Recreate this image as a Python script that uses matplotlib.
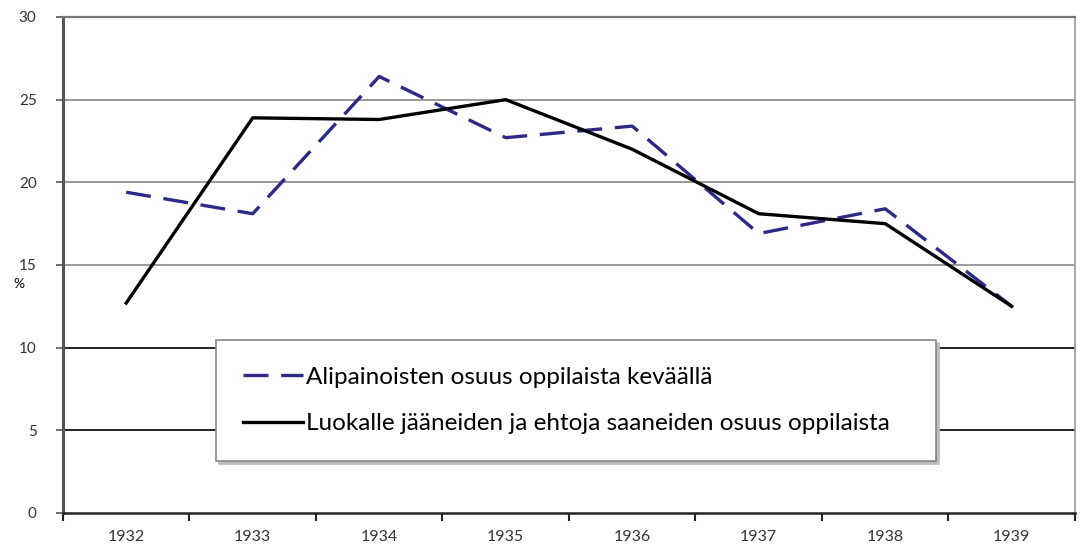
import numpy as np
import matplotlib.pyplot as plt
from matplotlib.ticker import FixedLocator

# data
years = ['1932', '1933', '1934', '1935', '1936', '1937', '1938', '1939']
alipainoiset = [19.4, 18.1, 26.4, 22.7, 23.4, 16.9, 18.4, 12.5]
luokalle = [12.7, 23.9, 23.8, 25.0, 22.0, 18.1, 17.5, 12.5]
yticks = [0, 5, 10, 15, 20, 25, 30]

lab1 = 'Alipainoisten osuus oppilaista keväällä'
lab2 = 'Luokalle jääneiden ja ehtoja saaneiden osuus oppilaista'

plt.rcParams['font.family'] = ['Lato', 'DejaVu Sans']

fig = plt.figure(figsize=(10.82, 5.55), dpi=100)
ax = fig.add_axes([0.0582, 0.0757, 0.9353, 0.8937])

x = np.arange(len(years))

# grid lines (lower ones are darker in the original)
for v in yticks[1:]:
    c = '#222222' if v <= 10 else '#9a9a9a'
    ax.axhline(v, color=c, lw=1.4, zorder=1)

ax.plot(x, alipainoiset, color='#2b2a86', lw=2.4, dashes=(7.5, 3.8), label=lab1, zorder=3)
ax.plot(x, luokalle, color='black', lw=2.4, label=lab2, zorder=3)

ax.set_xlim(-0.5, len(years) - 0.5)
ax.set_ylim(0, 30)
ax.set_xticks(x)
ax.set_xticklabels(years)
ax.xaxis.set_minor_locator(FixedLocator(np.arange(-0.5, len(years), 1.0)))
ax.tick_params(axis='x', which='major', length=0, pad=12, labelsize=11.5, colors='#333333')
ax.tick_params(axis='x', which='minor', length=6, width=1.5, color='#222222', direction='out')
ax.set_yticks(yticks)
ax.tick_params(axis='y', length=5, width=1.2, color='#555555', pad=14, labelsize=11, labelcolor='#333333')

ax.spines['left'].set_color('#555555')
ax.spines['left'].set_linewidth(2.2)
ax.spines['bottom'].set_color('#222222')
ax.spines['bottom'].set_linewidth(1.8)
ax.spines['right'].set_color('#999999')
ax.spines['right'].set_linewidth(1.2)
ax.spines['top'].set_color('#777777')
ax.spines['top'].set_linewidth(1.6)

fig.text(0.0125, 0.488, '%', fontsize=10, va='center', ha='left')

leg = ax.legend(loc='lower left', bbox_to_anchor=(0.151, 0.105, 0.712, 0.258), mode='expand',
                fontsize=17.5, handlelength=2.5, handletextpad=0.12, labelspacing=1.05,
                borderpad=1.1, borderaxespad=0, fancybox=False, framealpha=1,
                edgecolor='#888888', shadow={'color': '#bbbbbb', 'alpha': 1})
leg.get_frame().set_linewidth(1.2)
leg.set_zorder(5)

fig.savefig('out.png', dpi=100)
